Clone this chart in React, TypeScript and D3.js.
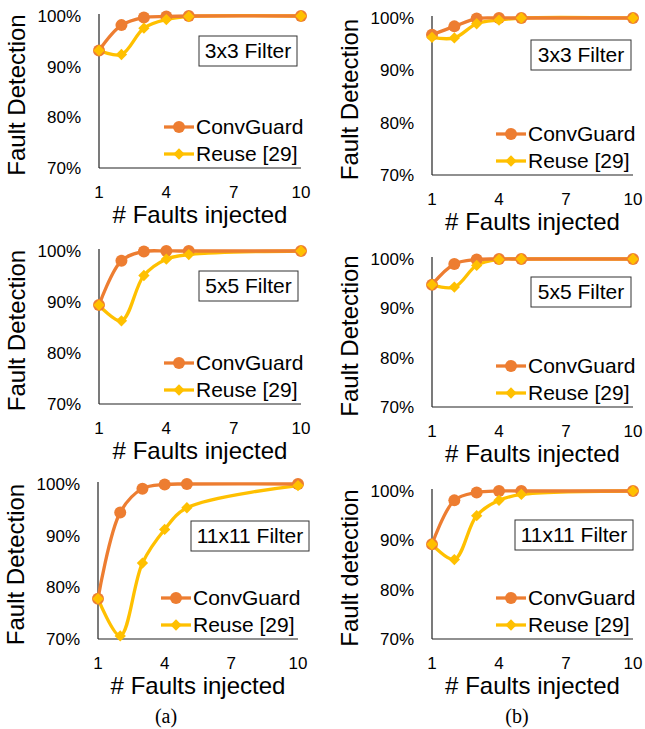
import React from 'react';
import * as d3 from 'd3';

// faults injected (x values of every series)
const faults = [1, 2, 3, 4, 5, 10];
const xTicks = [1, 4, 7, 10];
const yTicks = [70, 80, 90, 100];
const seriesNames = ['ConvGuard', 'Reuse [29]'];
const filterNames = ['3x3 Filter', '5x5 Filter', '11x11 Filter'];

// column (a)
const convA3 = [93.2, 98.2, 99.7, 99.9, 100, 100];
const reuseA3 = [93.2, 92.4, 97.6, 99.3, 99.9, 100];
const convA5 = [89.4, 98.1, 99.9, 100, 100, 100];
const reuseA5 = [89.4, 86.3, 95.2, 98.4, 99.3, 100];
const convA11 = [77.8, 94.5, 99.1, 99.9, 100, 100];
const reuseA11 = [77.8, 70.6, 84.7, 91.2, 95.4, 99.7];

// column (b)
const convB3 = [96.8, 98.4, 99.9, 100, 100, 100];
const reuseB3 = [96.3, 96.2, 98.9, 99.6, 100, 100];
const convB5 = [94.8, 99.0, 99.9, 100, 100, 100];
const reuseB5 = [94.8, 94.3, 98.7, 99.9, 100, 100];
const convB11 = [89.2, 98.1, 99.7, 100, 100, 100];
const reuseB11 = [89.2, 86.1, 95.0, 98.1, 99.3, 100];

const colors = ['#ED7D31', '#FFC000'];

const panels = [
  { box: [99, 301, 16, 168], conv: convA3, reuse: reuseA3, filter: filterNames[0], title: 'Fault Detection', tag: [199, 36, 98] },
  { box: [432, 633, 18, 175], conv: convB3, reuse: reuseB3, filter: filterNames[0], title: 'Fault Detection', tag: [531, 40, 100] },
  { box: [99, 301, 251, 404], conv: convA5, reuse: reuseA5, filter: filterNames[1], title: 'Fault Detection', tag: [199, 271, 99] },
  { box: [432, 633, 259, 407], conv: convB5, reuse: reuseB5, filter: filterNames[1], title: 'Fault Detection', tag: [531, 277, 100] },
  { box: [98, 298, 484, 639], conv: convA11, reuse: reuseA11, filter: filterNames[2], title: 'Fault Detection', tag: [191, 521, 118] },
  { box: [432, 633, 491, 639], conv: convB11, reuse: reuseB11, filter: filterNames[2], title: 'Fault detection', tag: [515, 520, 118] },
];

const font = 'Liberation Sans, Arial, sans-serif';

function Panel({ p }) {
  const [x0, x1, y0, y1] = p.box;
  const x = d3.scaleLinear().domain([1, 10]).range([x0, x1]);
  const y = d3.scaleLinear().domain([70, 100]).range([y1, y0]);
  const line = d3.line()
    .x((d, i) => x(faults[i]))
    .y(d => y(d))
    .curve(d3.curveCatmullRom.alpha(0.5));
  const diamond = d3.symbol(d3.symbolSquare, 64)();
  const series = [p.conv, p.reuse];
  const legX = x1 - 105;
  const legY = [y1 - 41, y1 - 14];

  return <g>
    <line x1={x0} x2={x0} y1={y0 - 2} y2={y1} stroke="#222" strokeWidth={1.2} />
    <line x1={x0} x2={x1} y1={y1} y2={y1} stroke="#222" strokeWidth={1.2} />
    {yTicks.map(t =>
      <text key={t} x={x0 - 18} y={y(t)} dy="0.35em" textAnchor="end" fontSize={17} fontFamily={font}>{t}%</text>
    )}
    {xTicks.map(t =>
      <text key={t} x={x(t)} y={y1 + 30} textAnchor="middle" fontSize={17} fontFamily={font}>{t}</text>
    )}
    <text x={(x0 + x1) / 2} y={y1 + 55} textAnchor="middle" fontSize={24} fontFamily={font}># Faults injected</text>
    <text transform={`translate(${x0 - 74},${(y0 + y1) / 2 + 3}) rotate(-90)`} textAnchor="middle" fontSize={24} fontFamily={font}>{p.title}</text>

    {series.slice().reverse().map((s, k) => {
      const i = 1 - k;
      return <path key={i} d={line(s)} fill="none" stroke={colors[i]} strokeWidth={3.3} />;
    })}
    {p.conv.map((v, i) =>
      <circle key={'c' + i} cx={x(faults[i])} cy={y(v)} r={6} fill={colors[0]} />
    )}
    {p.reuse.map((v, i) =>
      <path key={'r' + i} d={diamond} transform={`translate(${x(faults[i])},${y(v)}) rotate(45)`} fill={colors[1]} />
    )}

    <rect x={p.tag[0]} y={p.tag[1]} width={p.tag[2]} height={30} fill="white" stroke="#333" strokeWidth={1} />
    <text x={p.tag[0] + p.tag[2] / 2} y={p.tag[1] + 15} dy="0.35em" textAnchor="middle" fontSize={21} fontFamily={font}>{p.filter}</text>

    {seriesNames.map((name, i) =>
      <g key={name}>
        <line x1={legX - 32} x2={legX - 2} y1={legY[i]} y2={legY[i]} stroke={colors[i]} strokeWidth={3.3} />
        {i === 0
          ? <circle cx={legX - 17} cy={legY[i]} r={6} fill={colors[0]} />
          : <path d={diamond} transform={`translate(${legX - 17},${legY[i]}) rotate(45)`} fill={colors[1]} />}
        <text x={legX} y={legY[i]} dy="0.35em" fontSize={21} fontFamily={font}>{name}</text>
      </g>
    )}
  </g>;
}

export default function App() {
  return <div style={{ position: 'absolute', left: 0, top: 0 }}>
    <svg width={645} height={729} style={{ display: 'block', background: 'white' }}>
      {panels.map((p, i) => <Panel key={i} p={p} />)}
      <text x={166} y={723} textAnchor="middle" fontSize={20} fontFamily="Liberation Serif, Times New Roman, serif">(a)</text>
      <text x={517} y={723} textAnchor="middle" fontSize={20} fontFamily="Liberation Serif, Times New Roman, serif">(b)</text>
    </svg>
  </div>;
}
